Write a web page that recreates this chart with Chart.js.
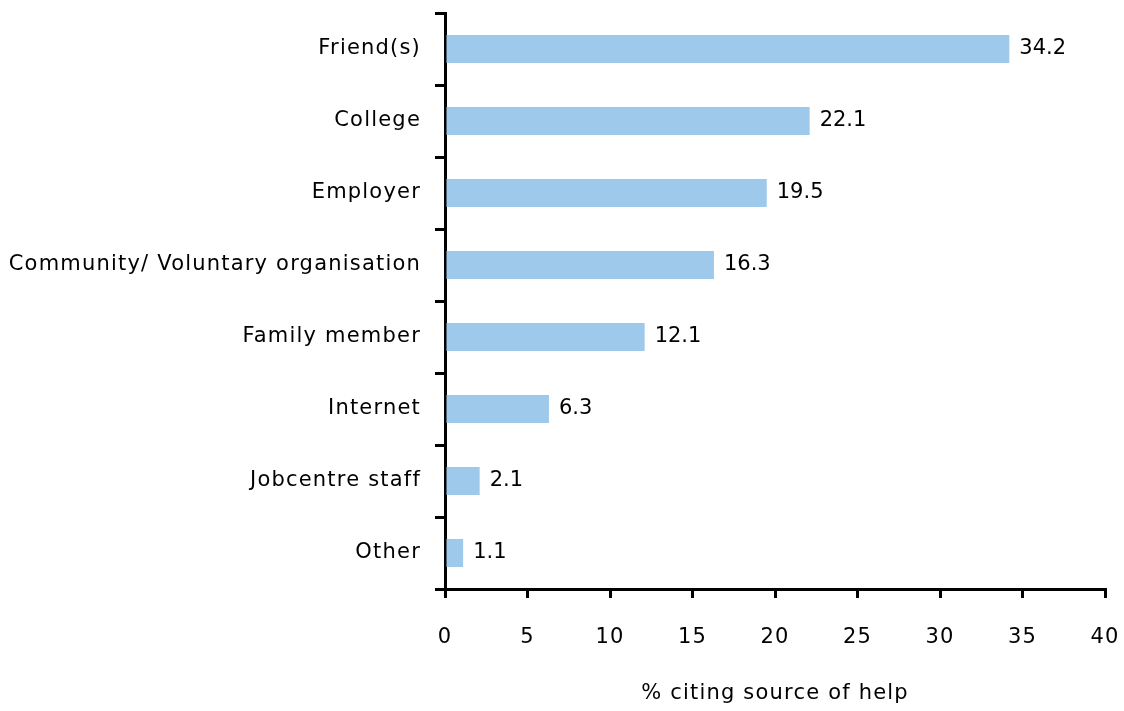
<!DOCTYPE html>
<html>
<head>
<meta charset="utf-8">
<script src="https://cdn.jsdelivr.net/npm/chart.js@4"></script>
<style>
  html, body { margin: 0; padding: 0; background: #fff; }
  #wrap { width: 1124px; height: 711px; }
</style>
</head>
<body>
<div id="wrap"><canvas id="barChart" width="1124" height="711"></canvas></div>
<script>
let sources = ['Friend(s)', 'College', 'Employer', 'Community/ Voluntary organisation', 'Family member', 'Internet', 'Jobcentre staff', 'Other'];
let percents = [34.2, 22.1, 19.5, 16.3, 12.1, 6.3, 2.1, 1.1];
let xTicks = [0, 5, 10, 15, 20, 25, 30, 35, 40];
let axisTitle = '% citing source of help';

const fontFamily = '"DejaVu Sans", sans-serif';

// wider letter spacing for axis text, like the original
const spacing = {
  id: 'spacing',
  beforeDraw(chart) { chart.ctx.letterSpacing = '1.2px'; },
  beforeDatasetsDraw(chart) { chart.ctx.letterSpacing = '0px'; }
};

// value labels at the end of each bar
const valueLabels = {
  id: 'valueLabels',
  afterDatasetsDraw(chart) {
    const ctx = chart.ctx;
    const meta = chart.getDatasetMeta(0);
    ctx.save();
    ctx.font = '21px ' + fontFamily;
    ctx.fillStyle = '#000';
    ctx.textBaseline = 'middle';
    ctx.textAlign = 'left';
    meta.data.forEach((bar, i) => {
      ctx.fillText(percents[i].toFixed(1), bar.x + 10, bar.y);
    });
    ctx.restore();
  }
};

var ctx = document.getElementById('barChart').getContext('2d');
var barChart = new Chart(ctx, {
  type: 'bar',
  data: {
    labels: sources,
    datasets: [{
      data: percents,
      backgroundColor: '#9fc9eb',
      borderWidth: 0,
      barPercentage: 0.39,
      categoryPercentage: 1
    }]
  },
  options: {
    indexAxis: 'y',
    responsive: false,
    animation: false,
    layout: { padding: { top: 13, right: 19, left: 0, bottom: 0 } },
    plugins: {
      legend: { display: false },
      tooltip: { enabled: false }
    },
    scales: {
      x: {
        min: 0,
        max: 40,
        afterBuildTicks: scale => { scale.ticks = xTicks.map(v => ({ value: v })); },
        afterFit: scale => {
          scale.height = 122;
          scale.paddingLeft = 0;
          scale.paddingRight = 0;
        },
        border: { display: true, color: '#000', width: 3 },
        grid: { drawOnChartArea: false, drawTicks: true, tickLength: 9, color: '#000', lineWidth: 3 },
        ticks: { color: '#000', font: { family: fontFamily, size: 21 }, padding: 27 },
        title: { display: true, text: axisTitle, color: '#000', font: { family: fontFamily, size: 21 }, padding: { top: 30, bottom: 5 } }
      },
      y: {
        afterFit: scale => {
          scale.width = 445;
          scale.paddingTop = 0;
          scale.paddingBottom = 0;
        },
        border: { display: true, color: '#000', width: 3 },
        grid: { drawOnChartArea: false, drawTicks: true, tickLength: 10, color: '#000', lineWidth: 3 },
        ticks: { color: '#000', font: { family: fontFamily, size: 21 }, padding: 14 }
      }
    }
  },
  plugins: [spacing, valueLabels]
});
</script>
</body>
</html>
